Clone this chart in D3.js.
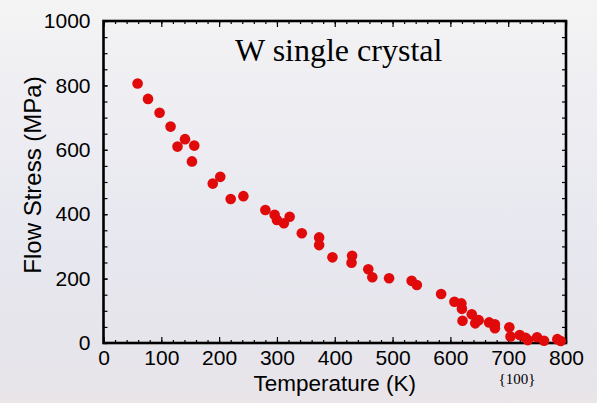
<!DOCTYPE html>
<html>
<head>
<meta charset="utf-8">
<script src="https://cdn.jsdelivr.net/npm/d3@7"></script>
<style>
  html, body { margin: 0; padding: 0; }
  body { width: 597px; height: 403px; overflow: hidden; }
</style>
</head>
<body>
<div id="chart"></div>
<script>
// Flow stress of W single crystal vs temperature
var temperature = [59, 77, 97, 116, 141, 128, 157, 153, 202, 189, 220, 242,
  280, 296, 300, 312, 322, 343, 373, 373, 396, 430, 429, 458, 465, 494, 533, 542,
  584, 607, 619, 620, 621, 637, 643, 649, 667, 677, 677, 702, 704, 720, 730, 734,
  750, 762, 785, 791];
var flowStress = [806, 758, 715, 672, 633, 610, 613, 564, 516, 495, 447, 456,
  413, 398, 382, 372, 392, 341, 328, 304, 266, 271, 249, 229, 204, 201, 193, 180,
  152, 128, 123, 106, 69, 89, 61, 71, 64, 58, 46, 49, 20, 25, 16, 9,
  18, 7, 12, 6];
var xTicks = [0, 100, 200, 300, 400, 500, 600, 700, 800];
var yTicks = [0, 200, 400, 600, 800, 1000];

var svgWidth = 597, svgHeight = 403;
// note: "top" is taken by window.top, so plot edges get their own names
var plotLeft = 103.5, plotRight = 566, plotTop = 21, plotBottom = 343;

var svg = d3.select('#chart').append('svg')
  .attr('width', svgWidth)
  .attr('height', svgHeight);

// background: soft greyish-lavender photo backdrop
var defs = svg.append('defs');
var grad = defs.append('linearGradient')
  .attr('id', 'bg').attr('x1', 0).attr('y1', 0).attr('x2', 0).attr('y2', 1);
grad.append('stop').attr('offset', '0%').attr('stop-color', '#f4f4f4');
grad.append('stop').attr('offset', '20%').attr('stop-color', '#efeff3');
grad.append('stop').attr('offset', '55%').attr('stop-color', '#e8e8f0');
grad.append('stop').attr('offset', '85%').attr('stop-color', '#e6e5ec');
grad.append('stop').attr('offset', '100%').attr('stop-color', '#e9e5e9');
svg.append('rect').attr('width', svgWidth).attr('height', svgHeight).attr('fill', 'url(#bg)');

var x = d3.scaleLinear().domain([0, 800]).range([plotLeft, plotRight]);
var y = d3.scaleLinear().domain([0, 1000]).range([plotBottom, plotTop]);

var tickFont = 'Liberation Sans, Arial, Helvetica, sans-serif';

function styleAxis(g) {
  g.select('.domain').remove();
  g.selectAll('line').attr('stroke', '#000').attr('stroke-width', 1.2);
  g.selectAll('text').attr('fill', '#000')
    .style('font-family', tickFont).style('font-size', '21px');
}

// minor ticks, all four sides
svg.append('g').attr('transform', 'translate(0,' + plotBottom + ')')
  .call(d3.axisBottom(x).ticks(40).tickSize(-3).tickFormat(''))
  .call(styleAxis);
svg.append('g').attr('transform', 'translate(0,' + plotTop + ')')
  .call(d3.axisTop(x).ticks(40).tickSize(-3).tickFormat(''))
  .call(styleAxis);
svg.append('g').attr('transform', 'translate(' + plotLeft + ',0)')
  .call(d3.axisLeft(y).ticks(20).tickSize(-4).tickFormat(''))
  .call(styleAxis);
svg.append('g').attr('transform', 'translate(' + plotRight + ',0)')
  .call(d3.axisRight(y).ticks(20).tickSize(-4).tickFormat(''))
  .call(styleAxis);

// major ticks with labels
svg.append('g').attr('transform', 'translate(0,' + plotBottom + ')')
  .call(d3.axisBottom(x).tickValues(xTicks).tickSizeInner(-6).tickSizeOuter(0)
    .tickPadding(7).tickFormat(d3.format('d')))
  .call(styleAxis);
svg.append('g').attr('transform', 'translate(0,' + plotTop + ')')
  .call(d3.axisTop(x).tickValues(xTicks).tickSizeInner(-6).tickSizeOuter(0).tickFormat(''))
  .call(styleAxis);
svg.append('g').attr('transform', 'translate(' + plotLeft + ',0)')
  .call(d3.axisLeft(y).tickValues(yTicks).tickSizeInner(-4).tickSizeOuter(0)
    .tickPadding(13).tickFormat(d3.format('d')))
  .call(styleAxis);

// frame
svg.append('rect')
  .attr('x', plotLeft).attr('y', plotTop)
  .attr('width', plotRight - plotLeft).attr('height', plotBottom - plotTop)
  .attr('fill', 'none').attr('stroke', '#000').attr('stroke-width', 2.6);

// data
svg.append('g').selectAll('circle')
  .data(temperature)
  .enter()
  .append('circle')
  .attr('cx', function (d) { return x(d); })
  .attr('cy', function (d, i) { return y(flowStress[i]); })
  .attr('r', 5.3)
  .attr('fill', '#e00a0a');

// labels
svg.append('text')
  .attr('x', 235).attr('y', 61)
  .style('font-family', 'Liberation Serif, Times New Roman, serif')
  .style('font-size', '32px')
  .text('W single crystal');

svg.append('text')
  .attr('x', (plotLeft + plotRight) / 2).attr('y', 391)
  .attr('text-anchor', 'middle')
  .style('font-family', tickFont).style('font-size', '22.5px')
  .text('Temperature (K)');

svg.append('text')
  .attr('transform', 'translate(41,' + 175 + ') rotate(-90)')
  .attr('text-anchor', 'middle')
  .style('font-family', tickFont).style('font-size', '24px')
  .text('Flow Stress (MPa)');

svg.append('text')
  .attr('x', 517).attr('y', 384)
  .attr('text-anchor', 'middle')
  .style('font-family', 'Liberation Serif, Times New Roman, serif')
  .style('font-size', '15px')
  .text('{100}');
</script>
</body>
</html>
